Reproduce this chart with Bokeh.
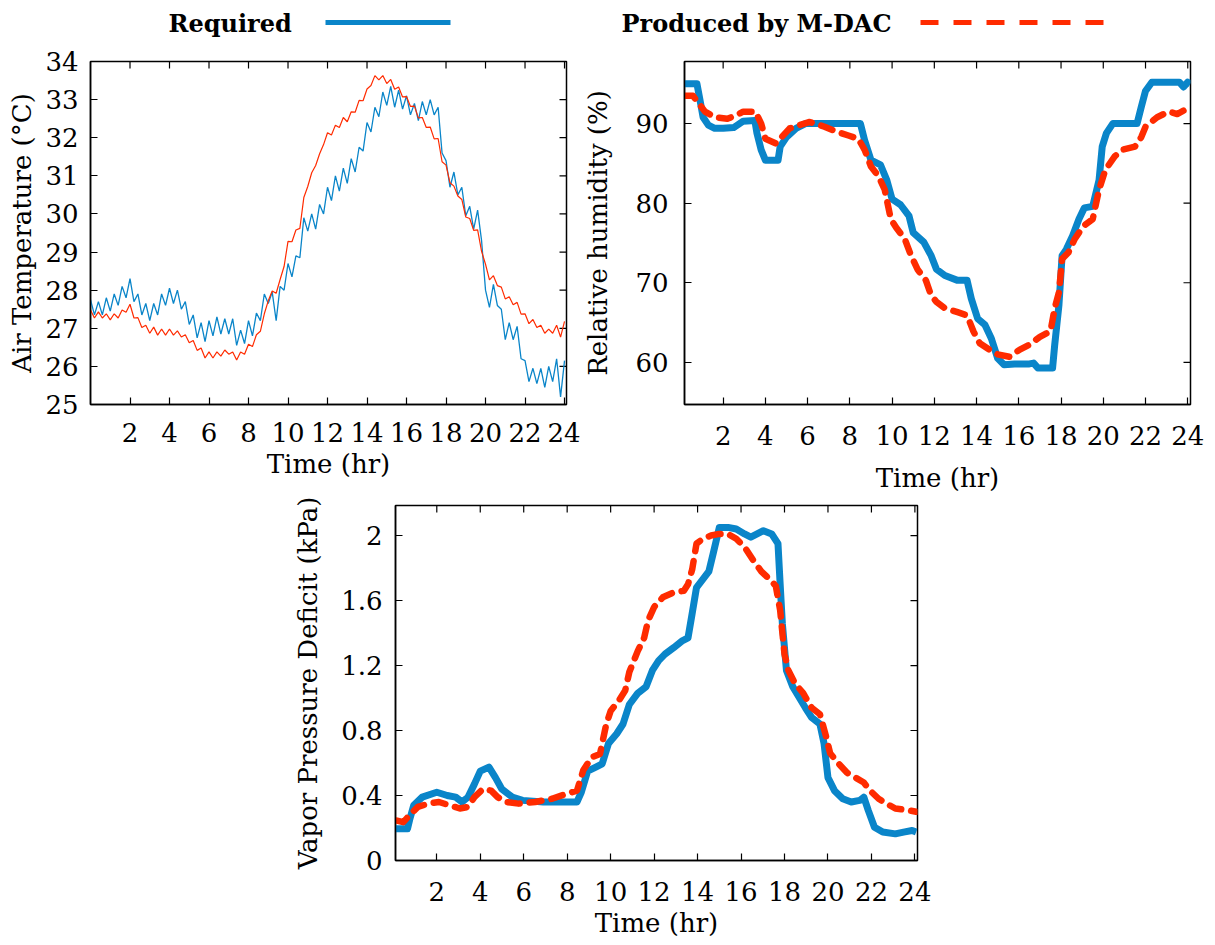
from bokeh.plotting import figure
from bokeh.layouts import column, row
from bokeh.models import FixedTicker, Range1d, Spacer
from bokeh.embed import file_html
from bokeh.resources import INLINE
from bokeh.core.properties import value

# ---------------- data ----------------
LEGEND_LABELS = ["Required", "Produced by M-DAC"]
TIME_TICKS = [2, 4, 6, 8, 10, 12, 14, 16, 18, 20, 22, 24]
TEMP_TICKS = [25, 26, 27, 28, 29, 30, 31, 32, 33, 34]
RH_TICKS = [60, 70, 80, 90]
VPD_TICKS = [0.0, 0.4, 0.8, 1.2, 1.6, 2.0]
VPD_TICK_LABELS = ["0", "0.4", "0.8", "1.2", "1.6", "2"]

# Air temperature, sampled every 0.2 h
TEMP_HOURS = [round(i * 0.2, 1) for i in range(121)]
TEMP_REQUIRED = [
    27.75, 27.35, 27.7, 27.35, 27.8, 27.45, 27.9, 27.6, 28.1, 27.8,
    28.3, 27.7, 27.9, 27.35, 27.65, 27.2, 27.65, 27.35, 27.9, 27.6,
    28.05, 27.65, 28.0, 27.5, 27.7, 27.1, 27.35, 26.75, 27.15, 26.65,
    27.2, 26.8, 27.3, 26.85, 27.25, 26.85, 27.25, 26.55, 26.95, 26.6,
    27.2, 26.8, 27.4, 27.2, 27.9, 27.65, 27.95, 27.2, 28.1, 28.0,
    28.7, 28.35, 28.9, 28.85, 29.9, 29.55, 30.0, 29.6, 30.25, 30.0,
    30.7, 30.35, 31.0, 30.6, 31.2, 30.8, 31.45, 31.1, 31.75, 31.65,
    32.4, 32.15, 32.8, 32.55, 33.2, 32.85, 33.35, 32.8, 33.25, 32.75,
    33.1, 32.6, 32.9, 32.45, 32.95, 32.6, 33.0, 32.6, 32.8, 31.6,
    31.4, 30.7, 31.1, 30.5, 30.7, 29.95, 30.2, 29.6, 30.1, 29.3,
    28.0, 27.55, 28.15, 27.6, 27.5, 26.7, 27.15, 26.7, 27.05, 26.2,
    26.15, 25.6, 25.95, 25.55, 25.95, 25.45, 26.0, 25.6, 26.2, 25.2,
    26.15]
TEMP_PRODUCED = [
    27.48, 27.27, 27.43, 27.27, 27.38, 27.22, 27.38, 27.27, 27.48, 27.42,
    27.63, 27.27, 27.28, 27.02, 27.08, 26.87, 27.03, 26.82, 26.98, 26.82,
    26.98, 26.82, 26.93, 26.77, 26.83, 26.62, 26.68, 26.42, 26.48, 26.22,
    26.38, 26.22, 26.38, 26.27, 26.43, 26.32, 26.38, 26.17, 26.38, 26.32,
    26.58, 26.52, 26.83, 26.92, 27.38, 27.72, 27.98, 27.92, 28.28, 28.62,
    29.28, 29.27, 29.58, 29.62, 30.43, 30.72, 31.08, 31.27, 31.58, 31.82,
    32.13, 32.07, 32.33, 32.27, 32.53, 32.42, 32.68, 32.67, 32.98, 32.97,
    33.28, 33.37, 33.63, 33.52, 33.63, 33.42, 33.53, 33.27, 33.33, 33.07,
    33.08, 32.82, 32.83, 32.52, 32.53, 32.27, 32.28, 31.97, 31.98, 31.37,
    31.28, 30.82, 30.73, 30.47, 30.38, 29.92, 29.88, 29.57, 29.58, 29.02,
    28.68, 28.27, 28.38, 28.12, 28.08, 27.77, 27.83, 27.62, 27.68, 27.37,
    27.38, 27.12, 27.23, 27.02, 27.08, 26.87, 26.98, 26.87, 27.08, 26.77,
    27.18]

# Relative humidity
RH_REQ_HOURS = [0.17, 0.5, 0.76, 0.9, 1.05, 1.3, 1.6, 2.0, 2.5, 2.95, 3.5, 3.6, 3.8, 4.0,
                4.3, 4.6, 4.7, 5.0, 5.45, 5.9, 7.0, 8.0, 8.5, 8.7, 9.0, 9.45, 9.75, 10.0,
                10.4, 10.8, 11.0, 11.5, 11.85, 12.1, 12.5, 13.1, 13.55, 13.75, 14.05, 14.4,
                14.7, 15.0, 15.3, 15.8, 16.5, 16.7, 16.9, 17.6, 17.7, 17.9, 18.05, 18.25,
                18.55, 18.85, 19.1, 19.5, 19.8, 19.95, 20.15, 20.45, 21.0, 21.6, 21.8, 22.0,
                22.3, 23.0, 23.6, 23.8, 24.0, 24.13]
RH_REQUIRED = [95.0, 95.0, 95.0, 93.0, 90.8, 89.8, 89.4, 89.4, 89.5, 90.3, 90.4, 88.8, 86.7,
               85.4, 85.4, 85.4, 87.1, 88.3, 89.4, 90.0, 90.0, 90.0, 90.0, 87.9, 85.4, 84.8,
               82.9, 80.5, 79.8, 78.4, 76.3, 75.1, 73.4, 71.7, 70.9, 70.3, 70.3, 68.0, 65.5,
               64.7, 63.0, 60.5, 59.7, 59.8, 59.8, 59.9, 59.3, 59.3, 62.2, 67.2, 73.4, 74.2,
               75.9, 78.0, 79.4, 79.6, 82.9, 87.1, 88.8, 90.0, 90.0, 90.0, 92.1, 94.1, 95.2,
               95.2, 95.2, 94.6, 95.2, 95.0]
RH_PROD_HOURS = [0.17, 0.57, 0.85, 1.14, 1.62, 2.2, 2.57, 2.95, 3.53, 3.8, 4.0, 4.5, 4.77,
                 5.15, 5.6, 6.1, 6.8, 7.35, 7.93, 8.4, 8.7, 9.0, 9.35, 9.65, 9.94, 10.2, 10.6,
                 10.9, 11.2, 11.6, 11.85, 12.1, 12.5, 13.1, 13.55, 13.85, 14.15, 14.6, 15.0,
                 15.55, 16.05, 16.5, 17.0, 17.5, 17.7, 17.9, 18.05, 18.35, 18.65, 19.05, 19.5,
                 19.8, 20.1, 20.55, 20.9, 21.5, 21.8, 22.0, 22.55, 23.1, 23.5, 24.0, 24.13]
RH_PRODUCED = [93.5, 93.5, 92.5, 91.5, 90.8, 90.6, 91.0, 91.5, 91.5, 90.0, 88.1, 87.5, 88.3,
               89.4, 89.8, 90.2, 89.6, 89.0, 88.5, 88.1, 86.7, 84.6, 83.4, 81.7, 78.0, 76.9,
               75.5, 73.4, 71.7, 70.3, 68.4, 67.6, 66.8, 66.3, 65.9, 63.9, 62.4, 61.6, 61.0,
               60.7, 61.6, 62.2, 63.2, 63.9, 66.8, 68.8, 73.0, 73.8, 75.5, 77.1, 78.0, 81.7,
               84.2, 85.9, 86.7, 87.1, 88.3, 89.6, 90.8, 91.5, 91.2, 91.9, 92.0]

# Vapor pressure deficit
VPD_REQ_HOURS = [0.11, 0.65, 0.75, 0.94, 1.33, 2.0, 2.48, 2.87, 3.16, 3.44, 3.73, 4.0, 4.4,
                 4.7, 4.99, 5.47, 5.95, 6.9, 8.45, 8.65, 8.94, 9.32, 9.61, 9.9, 10.28, 10.57,
                 10.86, 11.25, 11.63, 11.92, 12.21, 12.5, 12.9, 13.27, 13.56, 13.75, 13.95,
                 14.24, 14.52, 14.72, 15.0, 15.4, 15.78, 16.16, 16.45, 16.74, 17.03, 17.41,
                 17.7, 17.8, 17.9, 18.09, 18.38, 18.67, 18.96, 19.25, 19.63, 19.82, 20.0,
                 20.3, 20.68, 21.07, 21.46, 21.65, 21.85, 22.14, 22.52, 23.1, 23.48, 23.87,
                 24.06]
VPD_REQUIRED = [0.195, 0.195, 0.25, 0.34, 0.39, 0.42, 0.40, 0.39, 0.36, 0.39, 0.47, 0.55,
                0.575, 0.51, 0.44, 0.39, 0.37, 0.36, 0.36, 0.42, 0.55, 0.575, 0.595, 0.72,
                0.78, 0.84, 0.96, 1.03, 1.07, 1.17, 1.23, 1.27, 1.31, 1.35, 1.37, 1.52, 1.68,
                1.73, 1.78, 1.89, 2.05, 2.05, 2.04, 2.01, 1.99, 2.01, 2.03, 2.01, 1.95, 1.70,
                1.46, 1.17, 1.07, 1.005, 0.94, 0.88, 0.84, 0.72, 0.51, 0.43, 0.38, 0.36, 0.37,
                0.39, 0.31, 0.205, 0.175, 0.164, 0.175, 0.185, 0.175]
VPD_PROD_HOURS = [0.17, 0.46, 0.75, 1.13, 1.61, 2.1, 2.58, 3.06, 3.44, 3.73, 4.12, 4.5, 4.8,
                  5.18, 5.76, 6.53, 7.3, 7.97, 8.45, 8.74, 9.13, 9.51, 9.8, 10.0, 10.38,
                  10.67, 10.86, 11.25, 11.54, 11.73, 12.0, 12.4, 12.9, 13.37, 13.56, 13.75,
                  13.95, 14.24, 14.62, 15.0, 15.4, 15.78, 16.16, 16.55, 16.93, 17.32, 17.6,
                  17.8, 18.0, 18.18, 18.48, 18.86, 19.25, 19.63, 19.92, 20.1, 20.5, 20.88,
                  21.27, 21.65, 21.94, 22.33, 22.7, 23.1, 23.67, 24.06]
VPD_PRODUCED = [0.246, 0.236, 0.28, 0.33, 0.35, 0.36, 0.34, 0.32, 0.33, 0.39, 0.44, 0.43,
                0.39, 0.36, 0.35, 0.36, 0.38, 0.41, 0.43, 0.555, 0.636, 0.656, 0.84, 0.92,
                0.985, 1.046, 1.16, 1.29, 1.37, 1.48, 1.56, 1.62, 1.65, 1.66, 1.70, 1.79,
                1.95, 1.98, 2.0, 2.01, 2.01, 1.98, 1.93, 1.85, 1.78, 1.73, 1.69, 1.54, 1.27,
                1.17, 1.09, 1.03, 0.94, 0.90, 0.76, 0.66, 0.595, 0.54, 0.51, 0.48, 0.43, 0.38,
                0.35, 0.32, 0.31, 0.30]

# ---------------- style ----------------
BLUE = "#0a85c9"
RED = "#ff2b00"
FONT = "DejaVu Serif"
TICK_SIZE = "26px"
LABEL_SIZE = "26px"
TICK_LEN = 7


def make_panel(width, height, borders, xr, yr, yticks, ylabel,
               ytick_std, ylab_std, xtick_std, xlab_std, overrides=None):
    left, right, top, bottom = borders
    p = figure(width=width, height=height, x_range=Range1d(*xr), y_range=Range1d(*yr),
               output_backend="svg", toolbar_location=None,
               min_border_left=left, min_border_right=right,
               min_border_top=top, min_border_bottom=bottom)
    p.grid.visible = False
    p.outline_line_color = "black"
    p.outline_line_width = 1.5
    p.background_fill_color = "white"
    p.border_fill_color = "white"
    xa = p.xaxis[0]
    ya = p.yaxis[0]
    xa.ticker = FixedTicker(ticks=TIME_TICKS)
    ya.ticker = FixedTicker(ticks=yticks)
    if overrides:
        ya.major_label_overrides = overrides
    xa.axis_label = "Time (hr)"
    ya.axis_label = ylabel
    xa.major_label_standoff = xtick_std
    xa.axis_label_standoff = xlab_std
    ya.major_label_standoff = ytick_std
    ya.axis_label_standoff = ylab_std
    for ax in (xa, ya):
        ax.major_tick_in = TICK_LEN
        ax.major_tick_out = 0
        ax.minor_tick_line_color = None
        ax.axis_line_width = 1.5
        ax.axis_line_color = "black"
        ax.major_tick_line_width = 1.2
        ax.major_tick_line_color = "black"
        ax.major_label_text_font = FONT
        ax.major_label_text_font_size = TICK_SIZE
        ax.major_label_text_color = "black"
        ax.axis_label_text_font = FONT
        ax.axis_label_text_font_size = LABEL_SIZE
        ax.axis_label_text_font_style = "normal"
        ax.axis_label_text_color = "black"
    # mirrored inward ticks on the top and right frame edges
    p.ray(x=TIME_TICKS, y=[yr[1]] * len(TIME_TICKS), length=TICK_LEN, length_units="screen",
          angle=-90, angle_units="deg", line_color="black", line_width=1.2)
    p.ray(x=[xr[1]] * len(yticks), y=yticks, length=TICK_LEN, length_units="screen",
          angle=180, angle_units="deg", line_color="black", line_width=1.2)
    return p


# legend strip
leg = figure(width=1215, height=45, x_range=Range1d(0, 1215), y_range=Range1d(45, 0),
             x_axis_type=None, y_axis_type=None, min_border=0, output_backend="svg",
             toolbar_location=None)
leg.outline_line_color = None
leg.grid.visible = False
leg.text(x=[168, 621], y=[23, 23], text=LEGEND_LABELS, text_font=value(FONT),
         text_font_style="bold", text_font_size="24px", text_baseline="middle",
         text_color="black")
leg.line([325, 450], [22, 22], line_color=BLUE, line_width=5)
leg.line([920, 1115], [22, 22], line_color=RED, line_width=5, line_dash="18 15")

# panel 1: air temperature
p1 = make_panel(580, 450, (90, 14, 15, 89), (0.0, 24.1), (25, 34), TEMP_TICKS,
                "Air Temperature (°C)", 12, 5, 18, 4)
p1.line(TEMP_HOURS, TEMP_REQUIRED, line_color=BLUE, line_width=1.3)
p1.line(TEMP_HOURS, TEMP_PRODUCED, line_color=RED, line_width=1.2)

# panel 2: relative humidity
p2 = make_panel(635, 450, (103, 25, 16, 88), (0.17, 24.13), (54.7, 97.8), RH_TICKS,
                "Relative humidity (%)", 16, 19, 21, 15)
p2.line(RH_REQ_HOURS, RH_REQUIRED, line_color=BLUE, line_width=7, line_join="round")
p2.line(RH_PROD_HOURS, RH_PRODUCED, line_color=RED, line_width=6.5, line_dash="12 10",
        line_cap="round", line_join="round")

# panel 3: VPD
p3 = make_panel(925, 450, (102, 298, 10, 85), (0.1, 24.12), (0, 2.185), VPD_TICKS,
                "Vapor Pressure Deficit (kPa)", 13, 15, 21, 4,
                overrides=dict(zip(VPD_TICKS, VPD_TICK_LABELS)))
p3.line(VPD_REQ_HOURS, VPD_REQUIRED, line_color=BLUE, line_width=7, line_join="round")
p3.line(VPD_PROD_HOURS, VPD_PRODUCED, line_color=RED, line_width=6.5, line_dash="12 10",
        line_cap="round", line_join="round")

layout = column(leg, row(p1, p2), row(Spacer(width=290, height=450), p3))

with open("out.html", "w") as f:
    f.write(file_html(layout, INLINE))
